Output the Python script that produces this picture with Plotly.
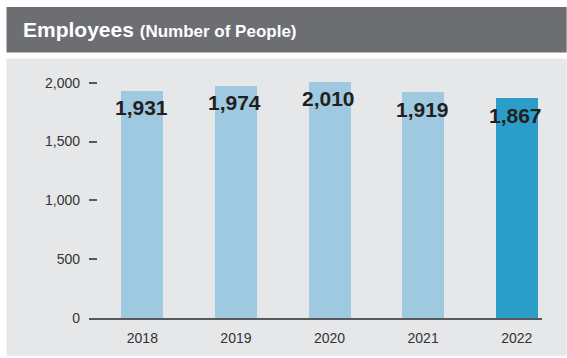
import plotly.graph_objects as go

years = ["2018", "2019", "2020", "2021", "2022"]
employees = [1931, 1974, 2010, 1919, 1867]
value_labels = ["1,931", "1,974", "2,010", "1,919", "1,867"]
bar_colors = ["#9ec9e1", "#9ec9e1", "#9ec9e1", "#9ec9e1", "#2a9ec9"]
y_tick_vals = [0, 500, 1000, 1500, 2000]
y_tick_text = ["0", "500", "1,000", "1,500", "2,000"]

W, H = 567, 358
L, R, T, B = 88.6, 24.7, 70.6, 38
PW = W - L - R
PH = H - T - B


def fx(px):
    return (px - L) / PW


def fy(py):
    return (H - B - py) / PH


FONT = "Liberation Sans, Arial, Helvetica, sans-serif"

fig = go.Figure()
fig.add_trace(go.Bar(
    x=years, y=employees, marker=dict(color=bar_colors, line=dict(width=0)),
    width=0.448, hoverinfo="skip",
))

for i, (v, t) in enumerate(zip(employees, value_labels)):
    fig.add_annotation(x=i, y=v, xref="x", yref="y", text="<b>" + t + "</b>", showarrow=False,
                       yshift=-17, xshift=-1,
                       font=dict(family=FONT, size=21, color="#231f20"),
                       yanchor="middle")

shapes = [
    dict(type="rect", xref="paper", yref="paper", x0=fx(6), x1=fx(567), y0=fy(52), y1=fy(6),
         fillcolor="#6d6e71", line=dict(width=0), layer="below"),
    dict(type="rect", xref="paper", yref="paper", x0=fx(6), x1=fx(567), y0=fy(358), y1=fy(58),
         fillcolor="#e6e7e9", line=dict(width=0), layer="below"),
]

fig.add_annotation(xref="paper", yref="paper", x=fx(20), y=fy(29), xanchor="left", yanchor="middle",
                   showarrow=False,
                   text="<b>Employees</b> <b><span style='font-size:17px'>(Number of People)</span></b>",
                   font=dict(family=FONT, size=21, color="#ffffff"))

fig.update_layout(
    width=W, height=H,
    margin=dict(l=L, r=R, t=T, b=B, pad=0),
    paper_bgcolor="#ffffff", plot_bgcolor="rgba(0,0,0,0)",
    shapes=shapes, showlegend=False, bargap=0,
    font=dict(family=FONT, size=14, color="#333333"),
)
fig.update_xaxes(type="category", range=[-0.57, 4.27], showline=True, linecolor="#58595b",
                 linewidth=2, ticks="", showgrid=False, zeroline=False,
                 tickfont=dict(family=FONT, size=14, color="#333333"), ticklabelstandoff=6)
fig.update_yaxes(range=[0, 2100], tickvals=y_tick_vals, ticktext=y_tick_text, ticks="inside",
                 ticklen=8, tickcolor="#58595b", tickwidth=1.5, showgrid=False, zeroline=False,
                 showline=False, tickfont=dict(family=FONT, size=14, color="#333333"),
                 ticklabelstandoff=8)

fig.write_html("out.html")
